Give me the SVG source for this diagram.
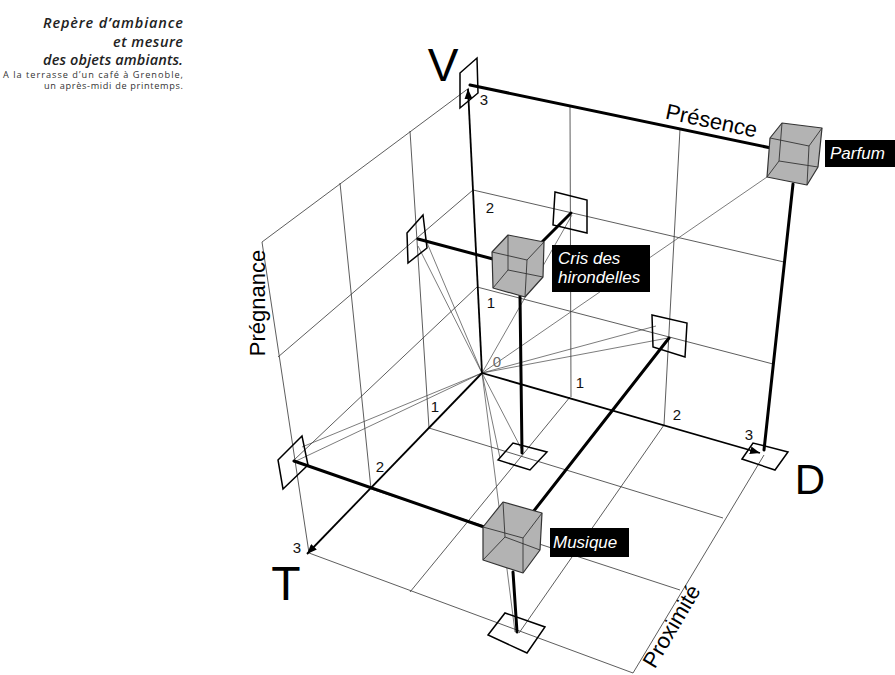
<svg xmlns="http://www.w3.org/2000/svg" width="895" height="675" viewBox="0 0 895 675">
<defs>
<style>
.grid{stroke:#333;stroke-width:0.8;fill:none}
.sight{stroke:#444;stroke-width:0.7;fill:none}
.axis{stroke:#000;stroke-width:1.8;fill:none}
.proj{stroke:#000;stroke-width:3;fill:none;stroke-linecap:round}
.mk{fill:none;stroke:#000;stroke-width:1.5}
.hull{fill:#b3b3b3;stroke:#333;stroke-width:1.2;stroke-linejoin:round}
.edge{fill:none;stroke:#333;stroke-width:0.9}
.lbl{fill:#000}
.lt{font-family:"Liberation Sans",Arial,sans-serif;font-style:italic;font-size:17px;fill:#fff}
.tick{font-family:"Liberation Sans",Arial,sans-serif;font-size:15px;fill:#111;text-anchor:middle}
.big{font-family:"Liberation Sans",Arial,sans-serif;fill:#000;text-anchor:middle}
.wall{font-family:"Liberation Sans",Arial,sans-serif;font-size:22px;fill:#000;text-anchor:middle}
.cap{font-family:"Open Sans","Noto Sans",sans-serif;font-style:italic;font-weight:600;font-size:14.5px;fill:#222;text-anchor:end}
.cap2{font-family:"Open Sans","Noto Sans",sans-serif;font-size:9.2px;fill:#333;text-anchor:end}
</style>
<marker id="ah" viewBox="0 0 10 8" refX="10" refY="4" markerWidth="10" markerHeight="8" markerUnits="userSpaceOnUse" orient="auto">
<path d="M0,0 L10,4 L0,8 Z" fill="#000"/>
</marker>
</defs>
<rect width="895" height="675" fill="#fff"/>

<g id="caption">
<text class="cap" x="183" y="28" textLength="140">Repère d’ambiance</text>
<text class="cap" x="183" y="46.5" textLength="70">et mesure</text>
<text class="cap" x="183" y="64.5" textLength="140">des objets ambiants.</text>
<text class="cap2" x="183" y="77.5" textLength="180">A la terrasse d’un café à Grenoble,</text>
<text class="cap2" x="183" y="89" textLength="139">un après-midi de printemps.</text>
</g>

<g id="grid">
<line class="grid" x1="469" y1="88" x2="262" y2="242"/>
<line class="grid" x1="262" y1="242" x2="309" y2="553"/>
<line class="grid" x1="410" y1="131" x2="429" y2="428"/>
<line class="grid" x1="340" y1="183" x2="371" y2="489"/>
<line class="grid" x1="473" y1="190" x2="278" y2="357"/>
<line class="grid" x1="477" y1="287" x2="294" y2="460"/>
<line class="grid" x1="570" y1="107" x2="571" y2="397"/>
<line class="grid" x1="680" y1="129" x2="664" y2="425"/>
<line class="grid" x1="473" y1="190" x2="784" y2="262"/>
<line class="grid" x1="477" y1="287" x2="773" y2="364"/>
<line class="grid" x1="429" y1="428" x2="723" y2="518"/>
<line class="grid" x1="371" y1="489" x2="680" y2="590"/>
<line class="grid" x1="309" y1="553" x2="633" y2="673"/>
<line class="grid" x1="570" y1="397" x2="410" y2="592"/>
<line class="grid" x1="664" y1="425" x2="519" y2="633"/>
<line class="grid" x1="764" y1="455" x2="633" y2="673"/>
</g>

<g id="connectors">
<line class="sight" x1="482" y1="373" x2="767" y2="177"/>
<line class="sight" x1="482" y1="373" x2="572" y2="215"/>
<line class="sight" x1="482" y1="373" x2="668" y2="338"/>
<line class="sight" x1="482" y1="373" x2="656" y2="326"/>
<line class="sight" x1="482" y1="373" x2="418" y2="246"/>
<line class="sight" x1="482" y1="373" x2="425" y2="238"/>
<line class="sight" x1="482" y1="373" x2="294" y2="462"/>
<line class="sight" x1="482" y1="373" x2="302" y2="447"/>
<line class="sight" x1="482" y1="373" x2="500" y2="458"/>
<line class="sight" x1="482" y1="373" x2="522" y2="450"/>
<line class="sight" x1="482" y1="373" x2="515" y2="632"/>
<line class="axis" x1="482" y1="373" x2="468" y2="89" marker-end="url(#ah)"/>
<line class="axis" x1="482" y1="373" x2="760" y2="453" marker-end="url(#ah)"/>
<line class="axis" x1="482" y1="373" x2="307" y2="554" marker-end="url(#ah)"/>
<line class="proj" x1="470" y1="85" x2="771" y2="148"/>
<line class="proj" x1="793" y1="184" x2="764" y2="450"/>
<line class="proj" x1="418" y1="239" x2="493" y2="259"/>
<line class="proj" x1="571" y1="213" x2="540" y2="244"/>
<line class="proj" x1="520" y1="296" x2="522" y2="453"/>
<line class="proj" x1="294" y1="461" x2="484" y2="527"/>
<line class="proj" x1="669" y1="338" x2="533" y2="512"/>
<line class="proj" x1="513" y1="572" x2="517" y2="632"/>
</g>

<g id="markers">
<polygon class="mk" points="460,73 477,58 478,93 460,108"/>
<polygon class="mk" points="407,233 423,215 427,248 408,263"/>
<polygon class="mk" points="278,460 302,436 308,465 283,489"/>
<polygon class="mk" points="555,192 587,200 587,233 553,225"/>
<polygon class="mk" points="652,315 687,323 685,357 653,347"/>
<polygon class="mk" points="742,459 753,443 788,452 775,470"/>
<polygon class="mk" points="498,460 513,443 547,452 530,470"/>
<polygon class="mk" points="488,635 505,613 545,627 527,653"/>
</g>

<g id="parfum">
<polygon class="hull" points="770,138 782,123 822,128 818,167 807,185 767,177"/>
<path class="edge" d="M770,138 L809,146 L807,185 M809,146 L822,128 M782,123 L779,161 L767,177 M779,161 L818,167"/>
<rect class="lbl" x="825" y="140" width="70" height="27"/>
<text class="lt" x="830" y="159">Parfum</text>
</g>

<g id="cris">
<polygon class="hull" points="492,252 508,235 544,242 543,277 525,297 493,288"/>
<path class="edge" d="M492,252 L527,260 L525,297 M527,260 L544,242 M508,235 L508,270 L493,288 M508,270 L543,277"/>
<rect class="lbl" x="552" y="245" width="98" height="47"/>
<text class="lt" x="558" y="264">Cris des</text>
<text class="lt" x="558" y="283">hirondelles</text>
</g>

<g id="musique">
<polygon class="hull" points="483,527 503,502 542,513 540,550 523,573 483,560"/>
<path class="edge" d="M483,527 L523,538 L523,573 M523,538 L542,513 M503,502 L505,537 L483,560 M505,537 L540,550"/>
<rect class="lbl" x="550" y="528" width="79" height="29"/>
<text class="lt" x="553" y="548">Musique</text>
</g>

<g id="labels">
<text class="tick" x="484" y="105" font-size="14">3</text>
<text class="tick" x="490" y="213">2</text>
<text class="tick" x="491" y="308">1</text>
<text class="tick" x="497" y="367" style="fill:#666">0</text>
<text class="tick" x="580" y="388">1</text>
<text class="tick" x="677" y="420">2</text>
<text class="tick" x="749" y="440" font-size="14">3</text>
<text class="tick" x="435" y="412">1</text>
<text class="tick" x="380" y="472">2</text>
<text class="tick" x="297" y="553" font-size="14">3</text>
<text class="big" x="443" y="81" font-size="46">V</text>
<text class="big" x="810" y="494" font-size="42">D</text>
<text class="big" x="286" y="600" font-size="48">T</text>
<text class="wall" x="710" y="128" transform="rotate(11.9 710 128)">Présence</text>
<text class="wall" x="265" y="303" font-size="23" transform="rotate(-90 265 303)">Prégnance</text>
<text class="wall" x="678" y="630" font-size="21" transform="rotate(-59.4 678 630)">Proximité</text>
</g>
</svg>
